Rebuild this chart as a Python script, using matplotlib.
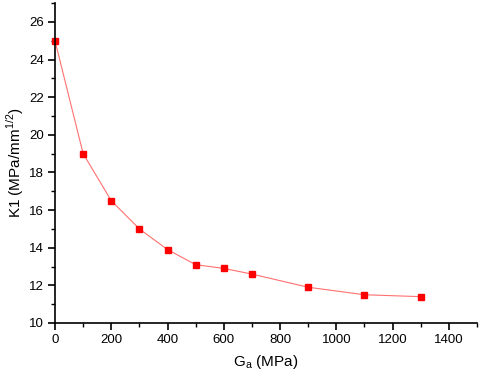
import matplotlib
matplotlib.use('Agg')
import matplotlib.pyplot as plt
from matplotlib.ticker import MultipleLocator

plt.rcParams['font.family'] = ['Liberation Sans', 'DejaVu Sans']

# Data
ga = [0, 100, 200, 300, 400, 500, 600, 700, 900, 1100, 1300]
k1 = [25.0, 19.0, 16.5, 15.0, 13.9, 13.1, 12.9, 12.6, 11.9, 11.5, 11.4]

fig = plt.figure(figsize=(4.8, 3.75), dpi=100)
ax = fig.add_axes([0.1146, 0.1387, 0.879, 0.853])

ax.plot(ga, k1, color='#ff7070', linewidth=0.8, marker='s', markersize=5,
        markerfacecolor='red', markeredgecolor='red', clip_on=False)

ax.set_xlim(0, 1500)
ax.set_ylim(10, 27)
ax.set_xticks(range(0, 1401, 200))
ax.set_yticks(range(10, 27, 2))
ax.xaxis.set_minor_locator(MultipleLocator(100))
ax.yaxis.set_minor_locator(MultipleLocator(1))

for s in ['top', 'right']:
    ax.spines[s].set_visible(False)
for s in ['left', 'bottom']:
    ax.spines[s].set_linewidth(1.2)

ax.tick_params(which='major', direction='out', length=5, width=1.2, labelsize=9.5, pad=3)
ax.tick_params(which='minor', direction='out', length=3, width=1.0)

ax.set_xlabel('G$_\\mathregular{a}$ (MPa)', fontsize=11, labelpad=5)
ax.set_ylabel('K1 (MPa/mm$^\\mathregular{1/2}$)', fontsize=11, labelpad=2)

fig.savefig('out.png', dpi=100)
